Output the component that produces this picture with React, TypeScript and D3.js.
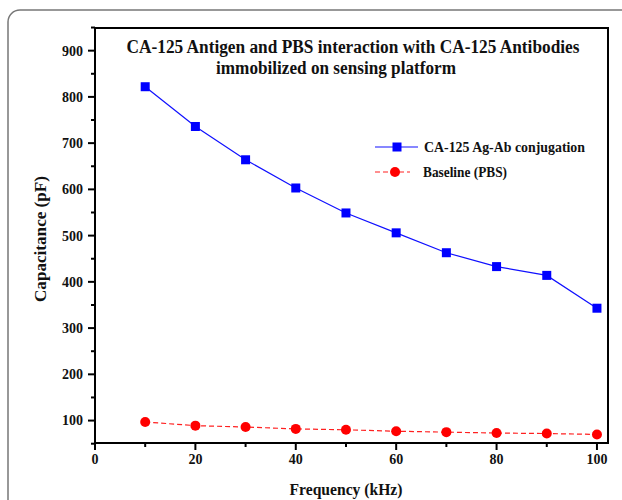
import React from "react";
import * as d3 from "d3";

const frequencies = [10, 20, 30, 40, 50, 60, 70, 80, 90, 100];
const agAbValues = [822, 736, 664, 603, 549, 506, 463, 433, 414, 343];
const baselineValues = [97, 89, 86, 82, 80, 77, 75, 73, 72, 70];
const xTicks = [0, 20, 40, 60, 80, 100];
const xMinorTicks = [10, 30, 50, 70, 90];
const yTicks = [100, 200, 300, 400, 500, 600, 700, 800, 900];
const yMinorTicks = [50, 150, 250, 350, 450, 550, 650, 750, 850, 950];
const titleLines = [
  "CA-125 Antigen and PBS interaction with CA-125 Antibodies",
  "immobilized on sensing platform",
];
const seriesNames = ["CA-125 Ag-Ab conjugation", "Baseline (PBS)"];

const FONT = "'Liberation Serif', 'Times New Roman', serif";

export default function App() {
  const left = 95, right = 608, top = 28, bottom = 443;
  const x = d3.scaleLinear().domain([0, 102.2]).range([left, right]);
  const y = d3.scaleLinear().domain([51.5, 949]).range([bottom, top]);

  const line = d3
    .line<number>()
    .x((_, i) => x(frequencies[i]))
    .y((d) => y(d));

  return (
    <svg
      width={622}
      height={500}
      style={{ position: "absolute", left: 0, top: 0, background: "#fff" }}
      fontFamily={FONT}
    >
      <rect x={0} y={0} width={622} height={500} fill="#fff" />
      <rect x={8} y={10} width={720} height={620} rx={12} fill="none" stroke="#777" strokeWidth={1.5} />

      {/* plot frame */}
      <rect x={left} y={top} width={right - left} height={bottom - top} fill="none" stroke="#000" strokeWidth={2} />

      {/* y ticks */}
      {yTicks.map((t) => (
        <g key={"y" + t}>
          <line x1={left - 7} x2={left} y1={y(t)} y2={y(t)} stroke="#000" strokeWidth={2} />
          <text x={83} y={y(t)} dy="0.35em" textAnchor="end" fontSize={14} fontWeight="bold" fill="#111">
            {t}
          </text>
        </g>
      ))}
      {yMinorTicks.map((t) => (
        <line key={"ym" + t} x1={left - 4} x2={left} y1={y(t)} y2={y(t)} stroke="#000" strokeWidth={2} />
      ))}

      {/* x ticks */}
      {xTicks.map((t) => (
        <g key={"x" + t}>
          <line x1={x(t)} x2={x(t)} y1={bottom} y2={bottom + 7} stroke="#000" strokeWidth={2} />
          <text x={x(t)} y={464} textAnchor="middle" fontSize={14} fontWeight="bold" fill="#111">
            {t}
          </text>
        </g>
      ))}
      {xMinorTicks.map((t) => (
        <line key={"xm" + t} x1={x(t)} x2={x(t)} y1={bottom} y2={bottom + 4} stroke="#000" strokeWidth={2} />
      ))}

      {/* axis titles */}
      <text x={346} y={495} textAnchor="middle" fontSize={17} fontWeight="bold" fill="#111" textLength={113} lengthAdjust="spacingAndGlyphs">
        Frequency (kHz)
      </text>
      <text
        transform={`translate(46, 239) rotate(-90)`}
        textAnchor="middle"
        fontSize={17}
        fontWeight="bold"
        fill="#111"
        textLength={126}
        lengthAdjust="spacingAndGlyphs"
      >
        Capacitance (pF)
      </text>

      {/* title */}
      <text x={353} y={53} textAnchor="middle" fontSize={18} fontWeight="bold" fill="#111" textLength={453} lengthAdjust="spacingAndGlyphs">
        {titleLines[0]}
      </text>
      <text x={336} y={74} textAnchor="middle" fontSize={18} fontWeight="bold" fill="#111" textLength={240} lengthAdjust="spacingAndGlyphs">
        {titleLines[1]}
      </text>

      {/* series */}
      <path d={line(agAbValues) || ""} fill="none" stroke="#1010ff" strokeWidth={1.2} />
      <path d={line(baselineValues) || ""} fill="none" stroke="#ff2020" strokeWidth={1.2} strokeDasharray="5,3" />
      {agAbValues.map((v, i) => (
        <rect key={"b" + i} x={x(frequencies[i]) - 4.5} y={y(v) - 4.5} width={9} height={9} fill="#0000ff" />
      ))}
      {baselineValues.map((v, i) => (
        <circle key={"r" + i} cx={x(frequencies[i])} cy={y(v)} r={5} fill="#ff0000" />
      ))}

      {/* legend */}
      <line x1={375} x2={418} y1={147} y2={147} stroke="#1010ff" strokeWidth={1.2} />
      <rect x={397 - 4.5} y={147 - 4.5} width={9} height={9} fill="#0000ff" />
      <text x={424} y={152} fontSize={14} fontWeight="bold" fill="#111" textLength={161} lengthAdjust="spacingAndGlyphs">
        {seriesNames[0]}
      </text>
      <line x1={375} x2={410} y1={172} y2={172} stroke="#ff2020" strokeWidth={1.2} strokeDasharray="5,3" />
      <circle cx={395} cy={172} r={5} fill="#ff0000" />
      <text x={423} y={177} fontSize={14} fontWeight="bold" fill="#111" textLength={84} lengthAdjust="spacingAndGlyphs">
        {seriesNames[1]}
      </text>
    </svg>
  );
}
